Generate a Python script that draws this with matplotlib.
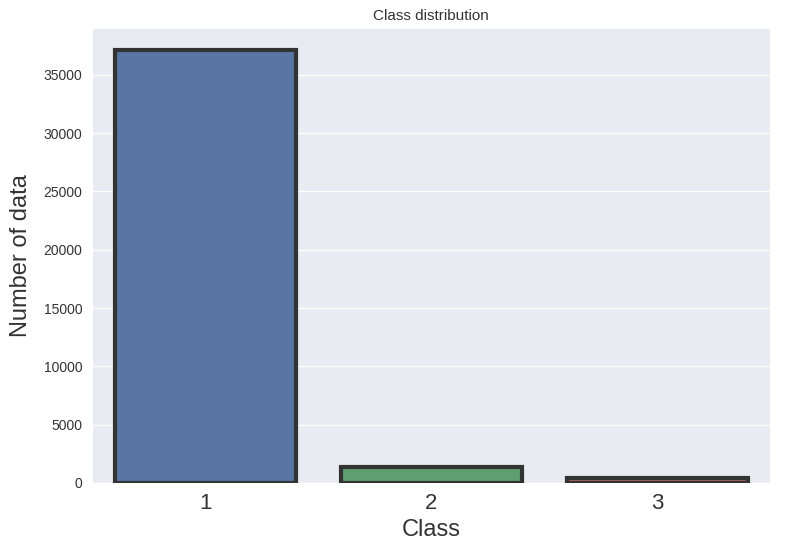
import matplotlib
matplotlib.use("Agg")
import matplotlib.pyplot as plt
import seaborn as sns

classes = ["1", "2", "3"]
counts = [37100, 1410, 390]
colors = ["#5975A4", "#5F9E6E", "#B55D60"]

sns.set_style("darkgrid")
plt.rcParams['font.family'] = ['Liberation Sans', 'DejaVu Sans']

fig = plt.figure(figsize=(8, 5.52), dpi=100)
ax = fig.add_axes([0.115, 0.125, 0.848, 0.824])
ax.bar(range(len(classes)), counts, width=0.8, color=colors,
       edgecolor="#333333", linewidth=3, zorder=3)
ax.set_xticks(range(len(classes)))
ax.set_xticklabels(classes, fontsize=16)
ax.set_xlim(-0.5, 2.5)
ax.set_ylim(0, 39000)
ax.set_yticks(range(0, 36000, 5000))
ax.tick_params(axis='y', labelsize=10, colors="#333333")
ax.tick_params(axis='x', colors="#333333")
ax.set_xlabel("Class", fontsize=17, color="#333333")
ax.set_ylabel("Number of data", fontsize=17, color="#333333", labelpad=8)
ax.set_title("Class distribution", fontsize=11, color="#333333")
ax.grid(axis='x', visible=False)
fig.savefig("out.png", dpi=100)
